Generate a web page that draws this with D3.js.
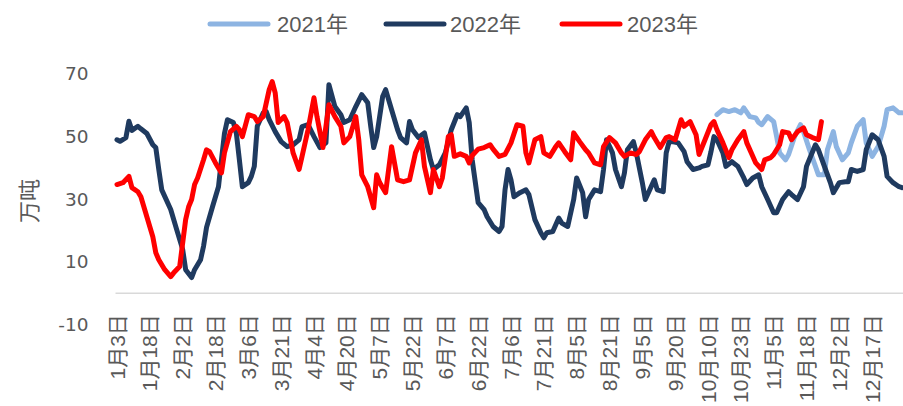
<!DOCTYPE html>
<html><head><meta charset="utf-8">
<script src="https://cdn.jsdelivr.net/npm/d3@7"></script>
<style>
body{margin:0;background:#fff;}
svg{display:block;}
</style></head>
<body><svg id="c" width="903" height="406"></svg>
<script>
// ---------- data ----------
const categoryCount = 264; // trading-day categories along the x axis
const tickLabels = ["1月3日","1月18日","2月2日","2月18日","3月6日","3月21日","4月4日","4月20日","5月7日","5月22日","6月7日","6月22日","7月6日","7月21日","8月5日","8月21日","9月5日","9月20日","10月10日","10月23日","11月5日","11月18日","12月2日","12月17日"];
const tickEvery = 11;
const yTicks = [-10, 10, 30, 50, 70];
const seriesNames = ["2021年","2022年","2023年"];
// [category index, value]
const s2021 = [[201,57],[203,58.6],[205,58],[207,58.6],[209,57.6],[210,59.2],[212,56.4],[214,56],[215,54.5],[216,53.8],[218,56.4],[220,54.8],[221,50],[222,44.8],[224,42.6],[225,44.3],[227,50],[229,53.8],[230,51.6],[232,45.8],[234,40.5],[235,37.8],[237,37.8],[238,45.8],[240,51.6],[241,46.8],[243,42.6],[245,44.8],[246,48],[248,53.3],[250,55.4],[251,48],[253,43.7],[255,46.8],[257,53.3],[258,58.6],[260,59.2],[262,57.6],[263,57.6]];
const s2022 = [[0,49],[1,48.5],[3,49.7],[4,54.9],[5,52],[7,53.3],[8,52.5],[10,51],[12,47.4],[13,46.5],[14,39.5],[15,33],[18,26.7],[20,20.3],[22,14],[23,7.5],[25,5],[26,7.5],[28,10.7],[29,15],[30,21],[32,27.6],[34,34],[35,42.6],[36,51],[37,55.4],[39,54.5],[40,51],[41,42.6],[42,34],[44,35.3],[45,37.3],[46,40.5],[47,53.3],[49,57.6],[50,58],[51,55.4],[53,51.6],[55,48.4],[57,46.8],[59,47.4],[61,49],[62,53.2],[64,53.8],[66,50],[68,46.5],[70,48],[71,66.6],[73,59.6],[75,57],[76,54.5],[78,55.4],[80,59.6],[82,63.4],[84,60.8],[85,53.3],[86,46.5],[87,50],[89,62.8],[90,65],[92,58.6],[94,52.2],[95,49.7],[97,48],[98,54.8],[99,52.2],[101,49.7],[103,51.2],[105,42.6],[106,39.5],[108,41],[110,44.8],[112,52.2],[114,57],[115,56.4],[117,59.2],[118,54.5],[119,42.6],[121,28.9],[123,26.7],[124,24.4],[126,21.3],[128,19.7],[129,21.3],[130,33],[131,39.5],[132,36.2],[133,30.8],[135,32.1],[137,33],[138,31.5],[140,23.5],[142,19.3],[143,17.7],[144,19.3],[146,19.7],[148,24],[149,22.4],[151,21.3],[153,29.9],[154,36.8],[156,32.1],[157,24.4],[158,29.9],[160,33],[162,32.4],[163,39.5],[164,49],[166,44.8],[167,39.5],[169,34],[170,38.4],[171,45.8],[173,48.4],[174,44.8],[176,35.3],[177,29.9],[178,32],[180,36.2],[181,33],[183,32.4],[184,44.8],[185,48.4],[186,48.4],[188,48],[190,45.2],[191,42],[193,39.5],[195,40],[196,40.5],[198,41],[199,45.2],[200,50],[201,49],[203,44.8],[204,40.5],[206,42],[208,40.5],[210,36.8],[211,34.7],[213,36.8],[215,37.8],[216,34],[218,29.9],[220,25.7],[221,25.7],[223,29.9],[225,32.4],[226,31.5],[228,29.9],[230,34],[231,40.5],[234,47.4],[235,45.8],[237,40.5],[239,35.3],[240,32.1],[242,35.3],[244,35.6],[245,35.6],[246,39.5],[248,38.9],[250,39.5],[251,45.8],[253,50.6],[255,49],[257,43.7],[258,37.3],[260,35.3],[262,34],[263,33.7]];
const s2023 = [[0,34.7],[2,35.3],[4,37.3],[5,33.7],[7,32.4],[8,30.8],[10,24.4],[12,18],[13,12.9],[14,10.7],[16,7.5],[18,5.3],[19,6.5],[21,8.5],[23,23.5],[24,27.6],[25,29.9],[26,34.7],[27,36.8],[29,42.6],[30,45.8],[31,45.2],[33,41.6],[35,38.4],[36,44.8],[38,51.6],[40,53.3],[41,52.2],[42,50],[44,57],[46,56.4],[47,54.8],[49,56.4],[51,65],[52,67.6],[53,64],[54,54.5],[56,56.4],[57,54.5],[59,44.8],[61,39.5],[62,43.7],[64,52.2],[66,62.4],[67,56.4],[69,46.5],[70,53.3],[71,60.2],[73,56.4],[75,53.3],[76,48],[78,50],[80,56.4],[81,49],[82,37.8],[84,34],[86,27.3],[87,37.8],[88,35.3],[90,32.1],[91,39.5],[92,46.8],[94,36.2],[96,35.6],[98,36.2],[100,44.8],[102,49],[103,40.5],[105,32.1],[106,39.5],[108,34],[109,36.8],[111,50],[112,50.6],[113,43.7],[115,44.5],[117,43.7],[118,41.6],[119,44],[121,46],[123,46.5],[125,47.4],[126,46],[128,43.7],[130,44.3],[132,48],[134,53.8],[136,53.3],[137,44.8],[138,41.6],[140,49],[142,50],[143,44.8],[145,43.7],[147,46.8],[148,48],[150,45.2],[152,42.6],[153,51.2],[155,48.4],[157,45.8],[158,44.8],[160,41.6],[162,41],[163,46.8],[165,49.7],[167,48],[169,44.8],[170,43.7],[172,44.8],[174,44.3],[175,45.2],[177,49],[179,51.6],[180,49.7],[182,46.5],[184,49.7],[185,50],[187,49],[189,55.4],[190,53.3],[192,54.8],[194,50.6],[195,44.3],[197,49],[199,53.8],[200,54.8],[201,52.2],[203,48],[205,43.3],[206,45.8],[208,49],[210,51.6],[211,48],[213,43.7],[214,41.6],[216,39.5],[217,42.6],[219,43.3],[220,44.3],[222,47.4],[223,51.6],[225,51.2],[226,49],[228,51.6],[230,52.8],[231,50.6],[233,49.7],[235,49],[236,54.8]];
const seriesData = [s2021, s2022, s2023];
const colors = ["#8DB4E2", "#1F3A5F", "#FF0000"];

// ---------- chart ----------
const svg = d3.select("#c");
const left = 115.5, right = 903.5;
const x = d3.scaleBand().domain(d3.range(categoryCount)).range([left, right]);
const cx = i => x(i) + x.bandwidth() / 2;
const y = d3.scaleLinear().domain([-10, 70]).range([324.5, 74]);
const textColor = "#595959";

// zero / category axis line
svg.append("line").attr("x1", left).attr("x2", right)
  .attr("y1", y(0)).attr("y2", y(0))
  .attr("stroke", "#D9D9D9").attr("stroke-width", 1.5);

// y axis labels
const ya = svg.append("g").attr("transform", `translate(${left},0)`)
  .call(d3.axisLeft(y).tickValues(yTicks).tickSize(0).tickPadding(27).tickFormat(d => String(d)));
ya.select(".domain").remove();
ya.selectAll("text").attr("fill", textColor)
  .style("font-family", "'DejaVu Sans', sans-serif").style("font-size", "18.5px");

// y title
svg.append("text").attr("transform", "translate(37,201) rotate(-90)")
  .attr("text-anchor", "middle").attr("fill", textColor)
  .style("font-family", "'Noto Sans CJK SC', sans-serif").style("font-size", "22px")
  .text("万吨");

// x axis labels
const xa = svg.append("g").attr("transform", `translate(0,${y(0)})`)
  .call(d3.axisBottom(x).tickValues(d3.range(0, categoryCount, tickEvery)).tickSize(0)
    .tickFormat(d => tickLabels[d / tickEvery]));
xa.select(".domain").remove();
xa.selectAll("text")
  .attr("fill", textColor)
  .style("font-family", "'Liberation Sans', 'Noto Sans CJK SC', sans-serif").style("font-size", "21px")
  .attr("text-anchor", "end")
  .attr("transform", "rotate(-90)")
  .attr("x", -21).attr("y", 0).attr("dy", "0.36em");

// lines
const line = d3.line().x(d => cx(d[0])).y(d => y(d[1]));
seriesData.forEach((s, k) => {
  svg.append("path").datum(s).attr("d", line)
    .attr("fill", "none").attr("stroke", colors[k]).attr("stroke-width", 5)
    .attr("stroke-linejoin", "round").attr("stroke-linecap", "round");
});

// legend
const legendPos = [[208, 277], [384, 450], [560, 627]];
seriesNames.forEach((n, k) => {
  const [lx, tx] = legendPos[k];
  svg.append("line").attr("x1", lx + 2).attr("x2", lx + 60).attr("y1", 24).attr("y2", 24)
    .attr("stroke", colors[k]).attr("stroke-width", 5).attr("stroke-linecap", "round");
  svg.append("text").attr("x", tx).attr("y", 24).attr("dy", "0.35em")
    .attr("fill", textColor)
    .style("font-family", "'Liberation Sans', 'Noto Sans CJK SC', sans-serif").style("font-size", "22px")
    .text(n);
});
</script></body></html>
